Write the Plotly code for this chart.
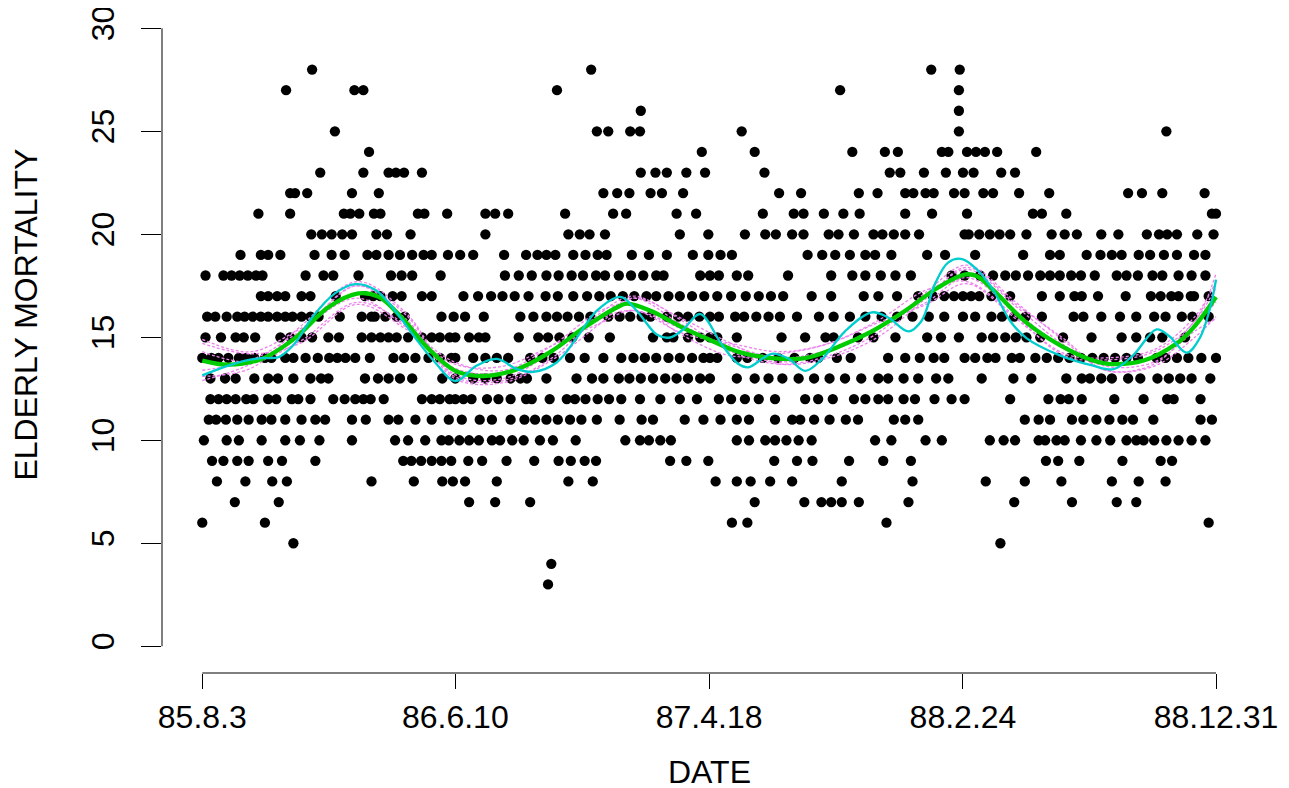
import datetime as dt
import plotly.graph_objects as go

# ---------------- data ----------------
START_DATE = "1985-08-03"
TICK_DATES = ["1985-08-03", "1986-06-10", "1987-04-18", "1988-02-24", "1988-12-31"]
TICK_LABELS = ["85.8.3", "86.6.10", "87.4.18", "88.2.24", "88.12.31"]
Y_TICKS = [0, 5, 10, 15, 20, 25, 30]

# day index (days since 85.8.3) of the observations at each mortality level
lvl3 = [425]
lvl4 = [429]
lvl5 = [112, 981]
lvl6 = [0, 77, 651, 670, 841, 1237]
lvl7 = [40, 94, 328, 360, 403, 679, 740, 761, 773, 786, 807, 868, 998, 1069, 1124, 1148]
lvl8 = [18, 53, 86, 104, 208, 260, 295, 308, 323, 362, 450, 480, 631, 657, 674, 698, 725,
        786, 873, 963, 1011, 1056, 1118, 1151, 1184]
lvl9 = [12, 26, 43, 57, 81, 98, 139, 247, 257, 269, 282, 294, 306, 327, 344, 374, 408, 438,
        453, 470, 484, 575, 595, 622, 703, 731, 750, 795, 837, 871, 1037, 1052, 1078, 1131,
        1178, 1192]
lvl10 = [2, 30, 45, 73, 102, 120, 144, 184, 237, 253, 274, 294, 303, 316, 328, 340, 356, 366,
         381, 395, 415, 431, 459, 520, 538, 549, 563, 576, 657, 672, 692, 704, 718, 733, 749,
         827, 847, 889, 909, 968, 985, 999, 1028, 1036, 1050, 1060, 1080, 1099, 1116, 1136,
         1148, 1157, 1170, 1185, 1200, 1216, 1233]
lvl11 = [8, 17, 29, 43, 57, 73, 85, 102, 122, 139, 151, 184, 201, 229, 241, 262, 282, 303,
         319, 341, 356, 379, 396, 409, 423, 437, 452, 466, 485, 513, 540, 554, 593, 616, 637,
         657, 672, 704, 725, 735, 752, 771, 791, 806, 850, 864, 880, 1011, 1028, 1042, 1069,
         1083, 1099, 1115, 1131, 1144, 1169, 1227, 1241]
lvl12 = [10, 20, 30, 41, 54, 63, 81, 91, 110, 118, 133, 161, 175, 188, 198, 207, 223, 270,
         282, 292, 304, 311, 321, 331, 350, 364, 379, 398, 405, 427, 448, 458, 471, 486, 500,
         515, 538, 563, 587, 608, 635, 650, 667, 684, 704, 741, 757, 775, 801, 815, 831, 843,
         862, 876, 900, 921, 937, 993, 1040, 1055, 1065, 1081, 1121, 1157, 1186, 1194, 1227]
lvl13 = [10, 28, 41, 64, 81, 93, 112, 133, 146, 155, 200, 216, 229, 243, 258, 295, 311, 333,
         348, 362, 379, 391, 399, 423, 460, 479, 493, 512, 525, 539, 554, 569, 583, 597, 612,
         624, 657, 679, 696, 713, 733, 752, 771, 790, 810, 831, 843, 862, 880, 902, 917, 958,
         997, 1019, 1062, 1081, 1091, 1105, 1118, 1138, 1153, 1174, 1188, 1202, 1216, 1239]
lvl14 = [0, 11, 20, 32, 45, 54, 64, 77, 85, 102, 112, 127, 142, 156, 166, 176, 188, 206, 235,
         248, 262, 278, 292, 306, 311, 333, 348, 362, 376, 403, 418, 432, 452, 470, 493, 515,
         530, 544, 558, 573, 587, 602, 616, 624, 633, 657, 670, 689, 708, 728, 747, 757, 780,
         797, 843, 864, 882, 899, 912, 937, 950, 965, 975, 995, 1005, 1024, 1038, 1052, 1066,
         1080, 1094, 1108, 1122, 1136, 1150, 1173, 1184, 1198, 1212, 1228, 1246]
lvl15 = [4, 23, 41, 51, 65, 96, 108, 122, 135, 155, 168, 196, 208, 219, 229, 239, 253, 270,
         282, 292, 304, 311, 328, 340, 348, 389, 413, 425, 439, 455, 475, 501, 554, 571, 579,
         597, 612, 624, 633, 657, 712, 741, 766, 776, 806, 825, 852, 891, 908, 930, 958, 972,
         987, 1000, 1013, 1030, 1058, 1093, 1130, 1148, 1165, 1180, 1208]
lvl16 = [6, 16, 30, 43, 52, 62, 72, 81, 92, 102, 111, 122, 133, 143, 169, 196, 208, 212, 225,
         239, 249, 294, 309, 323, 346, 391, 407, 423, 436, 449, 463, 477, 499, 513, 526, 540,
         551, 571, 585, 597, 611, 624, 635, 655, 666, 681, 696, 710, 731, 758, 776, 796, 815,
         835, 854, 873, 893, 912, 935, 950, 970, 983, 998, 1012, 1032, 1071, 1083, 1105, 1128,
         1148, 1170, 1184, 1204, 1217, 1237]
lvl17 = [72, 81, 92, 102, 122, 133, 164, 200, 210, 219, 234, 245, 270, 282, 321, 339, 355,
         369, 384, 401, 422, 437, 456, 473, 488, 502, 517, 531, 546, 558, 573, 587, 602, 617,
         633, 650, 668, 684, 699, 714, 749, 773, 813, 831, 854, 880, 898, 912, 924, 935, 945,
         955, 970, 993, 1032, 1054, 1072, 1081, 1101, 1135, 1166, 1178, 1191, 1200, 1215, 1219,
         1237]
lvl18 = [4, 26, 36, 46, 56, 66, 74, 127, 149, 161, 192, 232, 245, 258, 293, 372, 389, 405,
         423, 438, 454, 468, 484, 495, 512, 527, 542, 558, 567, 612, 624, 635, 657, 671, 720,
         773, 799, 815, 834, 852, 871, 921, 937, 956, 972, 987, 1000, 1015, 1030, 1042, 1054,
         1068, 1080, 1097, 1124, 1136, 1150, 1168, 1180, 1200, 1216, 1233]
lvl19 = [47, 72, 81, 96, 138, 159, 175, 203, 214, 229, 243, 258, 272, 282, 302, 317, 333, 371,
         398, 412, 423, 434, 456, 471, 486, 497, 528, 549, 571, 603, 622, 637, 651, 744, 762,
         778, 796, 815, 827, 847, 891, 913, 950, 1009, 1042, 1054, 1087, 1104, 1118, 1130,
         1151, 1165, 1182, 1198, 1219, 1233]
lvl20 = [134, 147, 159, 172, 184, 214, 227, 256, 348, 450, 464, 476, 495, 587, 622, 667, 692,
         705, 725, 739, 770, 782, 801, 825, 836, 850, 864, 881, 937, 942, 955, 968, 980, 993,
         1013, 1044, 1060, 1075, 1105, 1126, 1161, 1176, 1186, 1198, 1223, 1243]
lvl21 = [69, 108, 174, 182, 193, 211, 219, 265, 273, 301, 348, 360, 376, 446, 505, 521, 583,
         607, 689, 727, 739, 764, 788, 808, 864, 897, 940, 1021, 1032, 1062, 1241, 1246]
lvl22 = [108, 114, 129, 184, 217, 493, 510, 525, 551, 565, 591, 709, 736, 807, 830, 864, 874,
         889, 899, 924, 937, 960, 972, 1004, 1041, 1138, 1155, 1180, 1232]
lvl23 = [145, 198, 229, 238, 248, 270, 539, 557, 571, 595, 618, 691, 845, 858, 887, 914, 935,
         948, 982, 999]
lvl24 = [205, 614, 679, 799, 839, 855, 909, 917, 940, 951, 962, 977, 1025]
lvl25 = [163, 485, 499, 526, 538, 663, 930, 1185]
lvl26 = [539, 930]
lvl27 = [103, 187, 198, 436, 784, 930]
lvl28 = [135, 478, 896, 931]

LEVELS = {3: lvl3, 4: lvl4, 5: lvl5, 6: lvl6, 7: lvl7, 8: lvl8, 9: lvl9, 10: lvl10,
          11: lvl11, 12: lvl12, 13: lvl13, 14: lvl14, 15: lvl15, 16: lvl16, 17: lvl17,
          18: lvl18, 19: lvl19, 20: lvl20, 21: lvl21, 22: lvl22, 23: lvl23, 24: lvl24,
          25: lvl25, 26: lvl26, 27: lvl27, 28: lvl28}

# heavy smooth (green)
green_days = [0, 32, 73, 114, 155, 192, 217, 245, 278, 311, 346, 387, 428, 469, 510, 522,
              551, 591, 624, 659, 700, 741, 782, 823, 864, 905, 938, 952, 972, 1013, 1054,
              1095, 1116, 1157, 1198, 1218, 1246]
green_vals = [13.87, 13.67, 13.95, 14.96, 16.46, 17.13, 16.96, 15.96, 14.45, 13.37, 13.12,
              13.45, 14.29, 15.46, 16.46, 16.63, 16.29, 15.46, 14.87, 14.29, 13.99, 13.99,
              14.54, 15.29, 16.29, 17.43, 18.05, 17.97, 17.3, 15.71, 14.62, 13.87, 13.7,
              13.87, 14.71, 15.46, 16.96]

# lightly smoothed fit (cyan)
cyan_days = [0, 32, 53, 73, 94, 114, 135, 163, 188, 213, 237, 262, 286, 311, 337, 362, 387,
             407, 436, 460, 485, 514, 534, 559, 575, 591, 612, 639, 659, 671, 700, 721, 741,
             762, 790, 823, 843, 868, 884, 901, 917, 934, 952, 972, 993, 1013, 1054, 1095,
             1120, 1144, 1173, 1189, 1210, 1226, 1239, 1246]
cyan_vals = [13.15, 13.62, 13.87, 13.99, 14.04, 14.71, 15.96, 17.13, 17.58, 17.3, 16.29,
             14.96, 13.79, 12.87, 13.62, 13.95, 13.45, 13.32, 13.79, 14.96, 16.29, 16.96,
             16.29, 15.12, 14.99, 15.38, 16.13, 14.62, 13.7, 13.54, 14.2, 13.95, 13.37,
             13.95, 15.29, 16.21, 15.96, 15.29, 15.79, 17.63, 18.64, 18.8, 18.3, 17.3,
             15.79, 14.96, 14.12, 13.62, 13.45, 14.12, 15.38, 15.04, 14.25, 14.96, 16.46,
             17.8]

# replicate smooths (violet, dashed)
rep_days = [0, 60, 120, 190, 250, 310, 370, 430, 490, 530, 590, 650, 710, 770, 830, 890,
            940, 1000, 1060, 1110, 1170, 1220, 1246]
rep1 = [13.1, 13.5, 15.5, 17.7, 16.2, 13.1, 12.9, 14.0, 16.2, 17.0, 15.8, 14.3, 13.7, 14.1,
        15.2, 17.2, 18.5, 16.7, 14.8, 13.4, 13.6, 15.0, 16.0]
rep2 = [14.7, 14.2, 14.7, 16.6, 15.4, 13.7, 13.6, 14.6, 15.7, 16.3, 15.2, 14.7, 14.3, 14.7,
        15.7, 16.6, 17.6, 15.9, 14.2, 14.0, 14.4, 16.0, 17.7]
rep3 = [12.9, 13.7, 15.2, 17.5, 16.1, 13.0, 12.8, 13.9, 15.7, 16.9, 15.9, 14.7, 13.7, 14.0,
        15.0, 16.9, 18.4, 16.6, 14.9, 13.4, 13.7, 15.6, 16.7]
rep4 = [14.9, 14.3, 15.4, 16.9, 15.5, 13.8, 13.4, 14.6, 16.3, 16.6, 15.1, 14.1, 14.2, 14.7,
        15.8, 17.3, 17.7, 16.0, 14.1, 13.9, 14.3, 15.8, 18.1]
rep5 = [13.4, 13.9, 15.3, 17.5, 15.9, 13.2, 13.0, 14.3, 16.0, 16.9, 15.6, 14.4, 13.8, 14.3,
        15.4, 17.0, 18.3, 16.5, 14.6, 13.6, 13.8, 15.3, 15.9]
rep6 = [14.3, 13.8, 14.8, 16.7, 15.6, 13.5, 13.3, 14.3, 15.9, 16.3, 15.4, 14.6, 14.0, 14.4,
        15.5, 16.7, 17.9, 16.2, 14.5, 13.8, 14.0, 15.8, 17.4]

# ---------------- build figure ----------------
start = dt.date.fromisoformat(START_DATE)
tick_vals = [(dt.date.fromisoformat(d) - start).days for d in TICK_DATES]
n_days = tick_vals[-1]

xs, ys = [], []
for lvl, days in LEVELS.items():
    for d in days:
        xs.append(d)
        ys.append(lvl)

FONT = "Liberation Sans, Arial, Helvetica, sans-serif"
FS = 32
fig = go.Figure()
fig.add_trace(go.Scatter(x=xs, y=ys, mode="markers",
                         marker=dict(color="black", size=10.3, line=dict(width=0)),
                         hoverinfo="skip", showlegend=False))
for rep in (rep1, rep2, rep3, rep4, rep5, rep6):
    fig.add_trace(go.Scatter(x=rep_days, y=rep, mode="lines", line_shape="spline",
                             line=dict(color="#EE82EE", width=1.3, dash="3px,2px"),
                             hoverinfo="skip", showlegend=False))
fig.add_trace(go.Scatter(x=green_days, y=green_vals, mode="lines", line_shape="spline",
                         line=dict(color="#00CD00", width=4.3), showlegend=False))
fig.add_trace(go.Scatter(x=cyan_days, y=cyan_vals, mode="lines", line_shape="spline",
                         line=dict(color="#00CDCD", width=2.3), showlegend=False))

W, H = 1281, 780
fig.update_layout(
    width=W, height=H,
    margin=dict(l=153.7, r=32, t=7.6, b=115.3, pad=0, autoexpand=False),
    paper_bgcolor="white", plot_bgcolor="white",
    font=dict(family=FONT, size=FS, color="black"),
    xaxis=dict(range=[-49.5, 1296.4], tickvals=tick_vals, ticktext=TICK_LABELS,
               automargin=False,
               showgrid=False, zeroline=False, showline=False, ticks="outside",
               ticklen=15, tickwidth=1, tickcolor="black", ticklabelstandoff=1,
               ticklabeloverflow="allow",
               tickfont=dict(family=FONT, size=FS, color="black")),
    yaxis=dict(range=[-1.3, 30.6], tickvals=Y_TICKS, showgrid=False, zeroline=False,
               automargin=False,
               showline=False, ticks="outside", ticklen=20, tickwidth=1, tickcolor="black",
               tickangle=-90, ticklabelstandoff=14, ticklabeloverflow="allow",
               tickfont=dict(family=FONT, size=FS, color="black")),
    shapes=[
        dict(type="line", xref="x", yref="paper", x0=tick_vals[0], x1=tick_vals[-1],
             y0=0, y1=0, line=dict(color="black", width=1)),
        dict(type="line", xref="paper", yref="y", x0=0, x1=0, y0=Y_TICKS[0], y1=Y_TICKS[-1],
             line=dict(color="black", width=1)),
    ],
    annotations=[
        dict(text="DATE", xref="paper", yref="paper", x=0.5, y=-0.1505, showarrow=False,
             font=dict(family=FONT, size=FS), xanchor="center", yanchor="middle"),
        dict(text="ELDERLY MORTALITY", xref="paper", yref="paper", x=-0.1245, y=0.545,
             showarrow=False, textangle=-90, font=dict(family=FONT, size=FS),
             xanchor="center", yanchor="middle"),
    ],
)
fig.write_html("out.html")
